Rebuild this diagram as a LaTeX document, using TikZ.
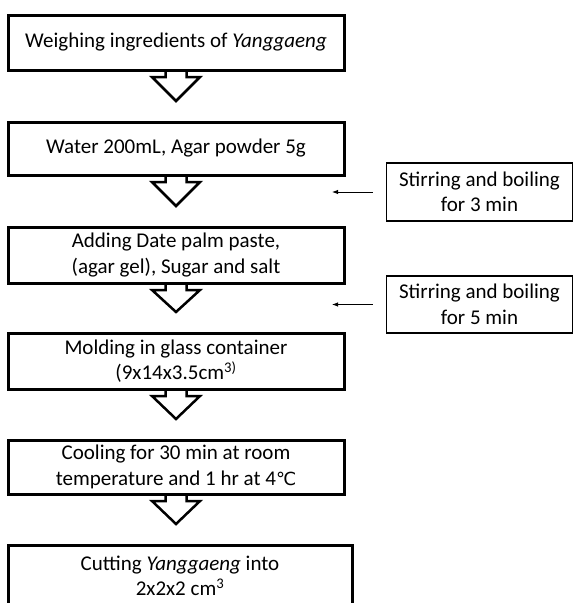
\documentclass[tikz,border=0pt]{standalone}
\usepackage{fontspec}
\setmainfont{Carlito}
\newfontfamily\symfont{DejaVu Sans}
\usetikzlibrary{arrows.meta,calc}

\begin{document}
\begin{tikzpicture}[x=1pt, y=-1pt,
		stepbox/.style={draw, line width=3pt, minimum width=336pt, outer sep=0pt,
		                inner sep=0pt, align=center, font=\fontsize{21}{25.5}\selectfont},
		sidebox/.style={draw, line width=1.5pt, minimum width=186pt, outer sep=0pt,
		                inner sep=0pt, align=center, font=\fontsize{21}{25.5}\selectfont},
		blockarrow/.style={line width=2.5pt},
		notearrow/.style={line width=0.9pt, -{Latex[length=6pt,width=4.5pt]}}]
		\useasboundingbox (0,0) rectangle (573,603);
		\clip (0,0) rectangle (573,603);
		\node[stepbox, minimum height=55pt] (b1) at (176, 42.5) {Weighing ingredients of \textit{Yanggaeng}};
		\node[stepbox, minimum height=53pt] (b2) at (176, 148.5) {Water 200mL, Agar powder 5g};
		\node[stepbox, minimum height=56pt] (b3) at (176, 255) {Adding Date palm paste,\\(agar gel), Sugar and salt};
		\node[stepbox, minimum height=56pt] (b4) at (176, 361) {Molding in glass container\\(9x14x3.5cm\textsuperscript{3)}};
		\node[stepbox, minimum height=54pt] (b5) at (176, 467) {Cooling for 30 min at room\\temperature and 1 hr at 4{\symfont\fontsize{18}{20}\selectfont ℃}};
		\node[stepbox, minimum height=62pt, minimum width=344pt] (b6) at (180, 576) {Cutting \textit{Yanggaeng} into\\2x2x2 cm\textsuperscript{3}};
		\foreach \a/\b in {b1/b2, b2/b3, b3/b4, b4/b5, b5/b6}
			\draw[blockarrow] ([xshift=-10.5pt]\a.south) -- ++(0,7) -- ++(-13.5,0)
				-- ($(\a.south |- \b.north)+(0,-21)$) -- ($(\a.south)+(24,7)$)
				-- ++(-13.5,0) -- ([xshift=10.5pt]\a.south);
		\node[sidebox, minimum height=58pt] (s1) at (479.5, 192) {Stirring and boiling\\for 3 min};
		\node[sidebox, minimum height=57pt] (s2) at (479.5, 304.5) {Stirring and boiling\\for 5 min};
		\coordinate (m1) at (332, 192);
		\coordinate (m2) at (332, 304.5);
		\foreach \s/\m in {s1/m1, s2/m2}
			\draw[notearrow, shorten <=14pt] (\s.west) -- (\m);
	\end{tikzpicture}
\end{document}
